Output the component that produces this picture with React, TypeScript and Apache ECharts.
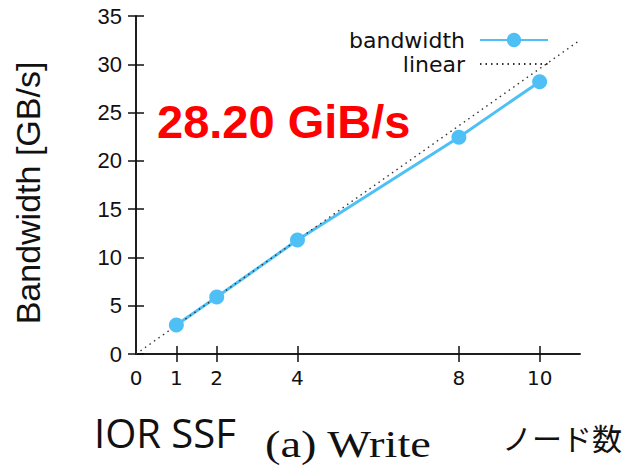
import React, { useEffect, useRef } from "react";
import * as echarts from "echarts";

const nodeCounts = [1, 2, 4, 8, 10];
const bandwidthGBs = [3.0, 5.9, 11.8, 22.45, 28.2];
const linearX = [0, 11];
const linearY = [0, 32.5];
const xTickValues = [1, 2, 4, 8, 10];
const xLabelValues = [0, 1, 2, 4, 8, 10];
const seriesNames = ["bandwidth", "linear"];
const highlightText = "28.20 GiB/s";
const yAxisTitle = "Bandwidth [GB/s]";
const leftCaption = "IOR SSF";
const centerCaption = "(a) Write";
const rightCaption = "ノード数";

const BLUE = "#4fc0f6";

export default function App() {
  const ref = useRef<HTMLDivElement>(null);
  useEffect(() => {
    if (!ref.current) return;
    const chart = echarts.init(ref.current, null, { renderer: "svg" });
    const axisLine = { show: true, lineStyle: { color: "#111", width: 1.5 } };
    const tick = { show: true, inside: true, length: 8, lineStyle: { color: "#111", width: 1.5 } };
    chart.setOption({
      animation: false,
      backgroundColor: "#fff",
      grid: { left: 136, right: 44, top: 16, bottom: 111, show: false },
      legend: {
        orient: "vertical",
        right: 70,
        top: 24,
        align: "right",
        itemWidth: 68,
        itemHeight: 18,
        itemGap: 2,
        data: [
          { name: seriesNames[0] },
          { name: seriesNames[1], itemStyle: { opacity: 0 } },
        ],
        textStyle: { fontFamily: "DejaVu Sans", fontSize: 22, color: "#111", padding: [0, 10, 0, 0] },
      },
      xAxis: [
        {
          type: "value",
          min: 0,
          max: 11,
          position: "bottom",
          axisLine,
          axisTick: { ...tick, customValues: xTickValues },
          axisLabel: {
            customValues: xLabelValues,
            fontFamily: "DejaVu Sans",
            fontSize: 20,
            color: "#111",
            margin: 14,
          },
          splitLine: { show: false },
        },
        {
          type: "value",
          min: 0,
          max: 11,
          position: "top",
          axisLine,
          axisTick: { ...tick, customValues: xTickValues },
          axisLabel: { show: false },
          splitLine: { show: false },
        },
      ],
      yAxis: [
        {
          type: "value",
          min: 0,
          max: 35,
          interval: 5,
          position: "left",
          axisLine,
          axisTick: tick,
          axisLabel: { fontFamily: "Liberation Sans", fontSize: 22, color: "#111", margin: 14 },
          splitLine: { show: false },
        },
        {
          type: "value",
          min: 0,
          max: 35,
          interval: 5,
          position: "right",
          axisLine,
          axisTick: tick,
          axisLabel: { show: false },
          splitLine: { show: false },
        },
      ],
      series: [
        {
          name: seriesNames[0],
          type: "line",
          data: nodeCounts.map((n, i) => [n, bandwidthGBs[i]]),
          symbol: "circle",
          symbolSize: 15,
          lineStyle: { color: BLUE, width: 3 },
          itemStyle: { color: BLUE },
        },
        {
          name: seriesNames[1],
          type: "line",
          data: linearX.map((x, i) => [x, linearY[i]]),
          symbol: "none",
          showSymbol: false,
          lineStyle: { color: "#333", width: 1.4, type: [1.5, 4] },
          itemStyle: { color: "#333" },
        },
      ],
      graphic: [
        {
          type: "text",
          left: 157,
          top: 98,
          style: {
            text: highlightText,
            fontFamily: "Liberation Sans",
            fontWeight: "bold",
            fontSize: 47,
            fill: "#ff0000",
          },
        },
        {
          type: "text",
          x: 28,
          y: 193,
          rotation: Math.PI / 2,
          style: {
            text: yAxisTitle,
            fontFamily: "Liberation Sans",
            fontSize: 34,
            fill: "#111",
            align: "center",
            verticalAlign: "middle",
          },
        },
        {
          type: "text",
          x: 94,
          y: 432,
          style: {
            text: leftCaption,
            fontFamily: "Open Sans",
            fontSize: 40,
            fill: "#111",
            align: "left",
            verticalAlign: "middle",
          },
        },
        {
          type: "text",
          x: 265,
          y: 444,
          scaleX: 1.22,
          style: {
            text: centerCaption,
            fontFamily: "Liberation Serif",
            fontSize: 38,
            fill: "#111",
            align: "left",
            verticalAlign: "middle",
          },
        },
        {
          type: "text",
          x: 502,
          y: 437,
          style: {
            text: rightCaption,
            fontFamily: "Noto Sans CJK JP",
            fontSize: 30,
            fill: "#111",
            align: "left",
            verticalAlign: "middle",
          },
        },
      ],
    });
    return () => chart.dispose();
  }, []);
  return (
    <div
      ref={ref}
      style={{ position: "fixed", left: 0, top: 0, width: 624, height: 465, background: "#fff" }}
    />
  );
}
